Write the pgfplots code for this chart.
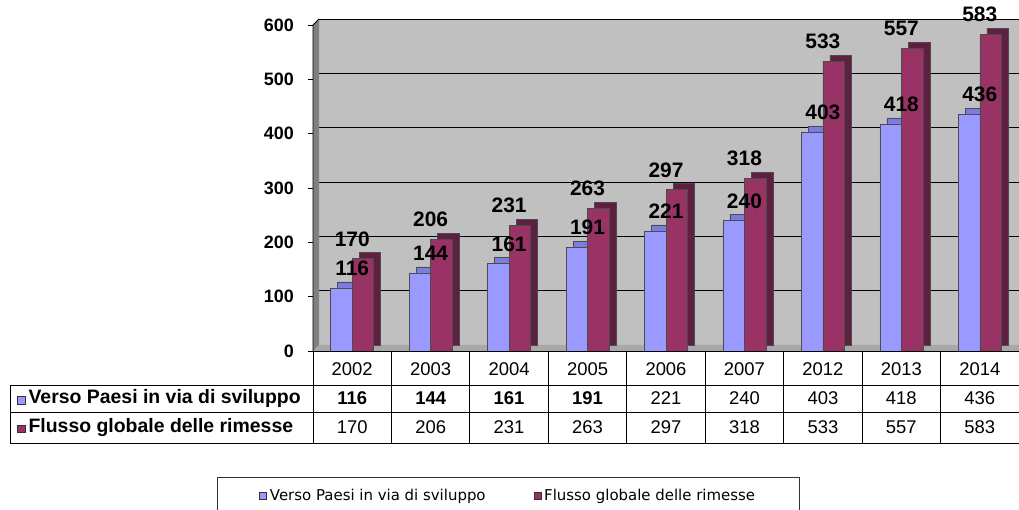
\documentclass[border=0pt]{standalone}
\usepackage{pgfplots}
\usepackage{pgfplotstable}
\pgfplotsset{compat=1.18}
\usepackage{fontspec}
\setmainfont{Liberation Sans}
\newfontfamily\legfont{DejaVu Sans}

\definecolor{serieA}{HTML}{9999FF}
\definecolor{serieAtop}{HTML}{7B7BE0}
\definecolor{serieB}{HTML}{993366}
\definecolor{serieBside}{HTML}{5E1F40}
\definecolor{muro}{HTML}{C0C0C0}
\definecolor{murolato}{HTML}{808080}
\definecolor{pavimento}{HTML}{A8A8A8}

% rimesse (miliardi di dollari)
\pgfplotstableread{
x anno paesi globale
0 2002 116 170
1 2003 144 206
2 2004 161 231
3 2005 191 263
4 2006 221 297
5 2007 240 318
6 2012 403 533
7 2013 418 557
8 2014 436 583
}\dati

\newcommand\quadratino[1]{{\setlength{\fboxsep}{0pt}\setlength{\fboxrule}{0.7bp}%
  \fcolorbox{black!80}{#1}{\rule{0pt}{7bp}\rule{7bp}{0pt}}}\hspace{3bp}}

\begin{document}
\begin{tikzpicture}
\useasboundingbox (0,0) rectangle (1019bp,510bp);
\begin{axis}[
    at={(313bp,159bp)}, anchor=south west,
    scale only axis,
    width=706bp, height=332bp,
    xmin=-0.5, xmax=8.5,
    ymin=0, ymax=611,
    clip=false,
    axis background/.style={fill=muro},
    separate axis lines,
    axis line style={draw=none},
    ytick={0,100,...,600},
    ytick pos=left,
    tick align=outside,
    major tick length=5bp,
    ytick style={black, line width=0.8bp},
    xtick style={draw=none},
    ymajorgrids,
    major grid style={black, line width=0.9bp, xshift=6bp, yshift=6bp},
    /pgf/number format/assume math mode=true,
    yticklabel style={font=\fontsize{18}{18}\selectfont\bfseries, inner sep=0pt, xshift=-14bp},
    xtick=data,
    xticklabels={
      {2002\\\textbf{116}\\170},
      {2003\\\textbf{144}\\206},
      {2004\\\textbf{161}\\231},
      {2005\\\textbf{191}\\263},
      {2006\\221\\297},
      {2007\\240\\318},
      {2012\\403\\533},
      {2013\\418\\557},
      {2014\\436\\583}},
    xticklabel style={anchor=north, inner sep=0pt, yshift=-6bp, align=center,
      font=\fontsize{18.5}{29.5}\selectfont},
    legend columns=2,
    legend image code/.code={\draw[#1, draw=black!80, line width=0.6bp] (0bp,-3.5bp) rectangle (7bp,3.5bp);},
    legend style={at={(-0.136,-0.3795)}, anchor=north west, draw=black!80,
      line width=0.8bp, font=\legfont\fontsize{15}{15}\selectfont,
      inner xsep=42bp, inner ysep=10bp,
      /tikz/every even column/.append style={column sep=46bp},
      /tikz/every odd column/.append style={column sep=1bp}},
  ]
  % parete sinistra e pavimento
  \fill[white] (rel axis cs:0,1) -- (axis cs:-0.5,600) -- ([xshift=6bp]rel axis cs:0,1) -- cycle;
  \fill[murolato] (axis cs:-0.5,0) -- ([xshift=6bp,yshift=6bp]axis cs:-0.5,0)
     -- ([xshift=6bp]rel axis cs:0,1) -- (axis cs:-0.5,600) -- cycle;
  \fill[pavimento] (axis cs:-0.5,0) -- ([xshift=6bp,yshift=6bp]axis cs:-0.5,0)
     -- ([yshift=6bp]axis cs:8.5,0) -- (axis cs:8.5,0) -- cycle;
  \draw[black, line width=0.8bp] ([xshift=6bp,yshift=6bp]axis cs:-0.5,600) -- (axis cs:-0.5,600) -- (axis cs:-0.5,0);

  % barre: profondita e faccia
  \addplot[ybar, bar width=21.5bp, bar shift=-10.75bp, fill=serieAtop, draw=black!70,
    line width=0.5bp, xshift=7bp, yshift=6bp, forget plot] table[x=x, y=paesi] {\dati};
  \addplot[ybar, bar width=21.5bp, bar shift=-10.75bp, fill=serieA, draw=black!70,
    line width=0.5bp] table[x=x, y=paesi] {\dati};
  \addlegendentry{Verso Paesi in via di sviluppo}
  \addplot[ybar, bar width=21.5bp, bar shift=10.75bp, fill=serieBside, draw=black!70,
    line width=0.5bp, xshift=7bp, yshift=6bp, forget plot] table[x=x, y=globale] {\dati};
  \addplot[ybar, bar width=21.5bp, bar shift=10.75bp, fill=serieB, draw=black!70,
    line width=0.5bp, nodes near coords,
    every node near coord/.append style={anchor=south, inner sep=0pt, yshift=12bp,
      black, font=\fontsize{21}{21}\selectfont\bfseries}] table[x=x, y=globale] {\dati};
  \addlegendentry{Flusso globale delle rimesse}
  \addplot[ybar, bar width=21.5bp, bar shift=-10.75bp, draw=none, fill=none, forget plot,
    nodes near coords,
    every node near coord/.append style={anchor=south, inner sep=0pt, yshift=12bp,
      black, font=\fontsize{21}{21}\selectfont\bfseries}] table[x=x, y=paesi] {\dati};

  % tabella dati
  \draw[black, line width=0.8bp] (axis cs:-0.5,0) -- (axis cs:8.5,0);
  \pgfplotsinvokeforeach{-0.5,0.5,...,8.5}{
    \draw[black, line width=0.8bp] (axis cs:#1,0) -- ([yshift=-92bp]axis cs:#1,0);
  }
  \draw[black, line width=0.8bp] ([xshift=-303bp,yshift=-34bp]axis cs:-0.5,0) -- ([yshift=-34bp]axis cs:8.5,0);
  \draw[black, line width=0.8bp] ([xshift=-303bp,yshift=-61bp]axis cs:-0.5,0) -- ([yshift=-61bp]axis cs:8.5,0);
  \draw[black, line width=0.8bp] ([xshift=-303bp,yshift=-92bp]axis cs:-0.5,0) -- ([yshift=-92bp]axis cs:8.5,0);
  \draw[black, line width=0.8bp] ([xshift=-303bp,yshift=-34bp]axis cs:-0.5,0) -- ([xshift=-303bp,yshift=-92bp]axis cs:-0.5,0);
  \node[anchor=west, inner sep=0pt, font=\fontsize{19.5}{20}\selectfont\bfseries]
    at ([xshift=-296bp,yshift=-47.5bp]axis cs:-0.5,0) {\quadratino{serieA}Verso Paesi in via di sviluppo};
  \node[anchor=west, inner sep=0pt, font=\fontsize{19.5}{20}\selectfont\bfseries]
    at ([xshift=-296bp,yshift=-76.5bp]axis cs:-0.5,0) {\quadratino{serieB}Flusso globale delle rimesse};
\end{axis}
\end{tikzpicture}
\end{document}
